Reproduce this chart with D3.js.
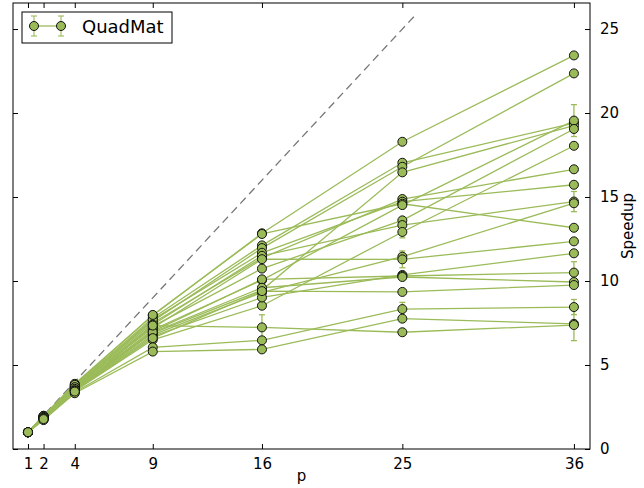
<!DOCTYPE html>
<html>
<head>
<meta charset="utf-8">
<script src="https://cdn.jsdelivr.net/npm/d3@7"></script>
<style>
body { margin:0; background:#fff; }
text { font-family: "DejaVu Sans", sans-serif; fill:#000; }
</style>
</head>
<body>
<div id="chart"></div>
<script>
var w=644, h=488

// processor counts on the x axis
var procs = [1, 2, 4, 9, 16, 25, 36];
var xTicks = [1, 2, 4, 9, 16, 25, 36];
var yTicks = [0, 5, 10, 15, 20, 25];
var seriesName = "QuadMat";

// one row per matrix: speedup at p = 1,2,4,9,16,25,36
var speedups = [
  [1, 1.98, 3.88, 7.95, 12.84, 18.29, 23.43],
  [1, 1.95, 3.80, 7.80, 12.12, 17.04, 19.40],
  [1, 1.93, 3.75, 7.60, 11.96, 16.80, 22.36],
  [1, 1.88, 3.60, 6.90, 9.46, 16.47, 19.25],
  [1, 1.90, 3.70, 7.50, 11.37, 14.88, 16.65],
  [1, 1.92, 3.72, 7.70, 11.68, 14.72, 15.73],
  [1, 1.97, 3.82, 7.98, 12.80, 14.60, 13.17],
  [1, 1.85, 3.55, 7.10, 10.05, 14.52, 19.55],
  [1, 1.87, 3.62, 7.30, 10.74, 13.61, 19.05],
  [1, 1.89, 3.65, 7.40, 11.50, 13.33, 14.73],
  [1, 1.80, 3.45, 6.50, 8.53, 12.92, 18.05],
  [1, 1.84, 3.52, 6.80, 9.32, 11.45, 14.63],
  [1, 1.91, 3.68, 7.20, 11.30, 11.29, 12.36],
  [1, 1.82, 3.48, 6.70, 9.02, 10.36, 11.65],
  [1, 1.86, 3.58, 7.00, 10.10, 10.30, 10.50],
  [1, 1.83, 3.50, 6.95, 9.60, 10.24, 9.94],
  [1, 1.81, 3.46, 6.60, 9.40, 9.35, 9.76],
  [1, 1.76, 3.38, 6.05, 6.47, 8.33, 8.45],
  [1, 1.72, 3.32, 5.80, 5.93, 7.76, 7.45],
  [1, 1.78, 3.42, 7.35, 7.24, 6.95, 7.38]
];

// standard deviation of each point (same layout as speedups)
var errBars = [
  [0, 0.02, 0.05, 0.10, 0.10, 0.10, 0.10],
  [0, 0.02, 0.05, 0.10, 0.10, 0.10, 0.15],
  [0, 0.02, 0.05, 0.10, 0.10, 0.10, 0.10],
  [0, 0.02, 0.05, 0.10, 0.10, 0.10, 0.10],
  [0, 0.02, 0.05, 0.10, 0.10, 0.10, 0.10],
  [0, 0.02, 0.05, 0.10, 0.10, 0.10, 0.10],
  [0, 0.02, 0.05, 0.10, 0.10, 0.10, 0.10],
  [0, 0.02, 0.05, 0.10, 0.10, 0.15, 0.95],
  [0, 0.02, 0.05, 0.10, 0.10, 0.10, 0.10],
  [0, 0.02, 0.05, 0.10, 0.10, 0.10, 0.60],
  [0, 0.02, 0.05, 0.10, 0.10, 0.35, 0.10],
  [0, 0.02, 0.05, 0.10, 0.10, 0.10, 0.10],
  [0, 0.02, 0.05, 0.10, 0.10, 0.50, 0.10],
  [0, 0.02, 0.05, 0.10, 0.10, 0.10, 0.10],
  [0, 0.02, 0.05, 0.10, 0.10, 0.10, 0.65],
  [0, 0.02, 0.05, 0.10, 0.10, 0.10, 0.10],
  [0, 0.02, 0.05, 0.10, 0.10, 0.10, 0.10],
  [0, 0.02, 0.05, 0.10, 0.10, 0.40, 0.45],
  [0, 0.02, 0.05, 0.10, 0.10, 0.10, 1.00],
  [0, 0.02, 0.05, 0.10, 0.75, 0.10, 0.10]
];

// ideal speedup line y = p
var idealLine = [1, 25.8];

var green = "#9bbb59";

var svg=d3.select("#chart")
.append("svg")
.attr("width",w)
.attr("height",h);

var plotL=13, plotR=590, plotT=3, plotB=449;

var x = d3.scaleLinear().domain([0.04, 37.03]).range([plotL, plotR]);
var y = d3.scaleLinear().domain([0, 26.55]).range([plotB, plotT]);

// frame box
svg.append("rect")
.attr("x", plotL)
.attr("y", plotT)
.attr("width", plotR-plotL)
.attr("height", plotB-plotT)
.attr("fill", "none")
.attr("stroke", "#000")
.attr("stroke-width", 1);

// bottom axis (ticks point inward)
var xAxis = svg.append("g")
.attr("transform", "translate(0," + plotB + ")")
.call(d3.axisBottom(x).tickValues(xTicks).tickSizeInner(-5).tickSizeOuter(0).tickPadding(9));
xAxis.select(".domain").remove();
xAxis.selectAll("text").style("font-size", "15px").style("font-family", "DejaVu Sans");

// top mirror ticks
var xTop = svg.append("g")
.attr("transform", "translate(0," + plotT + ")")
.call(d3.axisTop(x).tickValues(xTicks).tickSizeInner(-5).tickSizeOuter(0).tickFormat(""));
xTop.select(".domain").remove();

// right axis with labels
var yAxis = svg.append("g")
.attr("transform", "translate(" + plotR + ",0)")
.call(d3.axisRight(y).tickValues(yTicks).tickSizeInner(-5).tickSizeOuter(0).tickPadding(10));
yAxis.select(".domain").remove();
yAxis.selectAll("text").style("font-size", "15px").style("font-family", "DejaVu Sans");

// left mirror ticks
var yLeft = svg.append("g")
.attr("transform", "translate(" + plotL + ",0)")
.call(d3.axisLeft(y).tickValues(yTicks).tickSizeInner(-5).tickSizeOuter(0).tickFormat(""));
yLeft.select(".domain").remove();

svg.selectAll(".tick line").attr("stroke", "#000");

// axis labels
svg.append("text")
.attr("x", (plotL+plotR)/2)
.attr("y", 481)
.attr("text-anchor", "middle")
.style("font-size", "15px")
.text("p");

svg.append("text")
.attr("transform", "translate(633," + (plotT+plotB)/2 + ") rotate(-90)")
.attr("text-anchor", "middle")
.style("font-size", "15px")
.text("Speedup");

// ideal line
svg.append("line")
.attr("x1", x(idealLine[0]))
.attr("y1", y(idealLine[0]))
.attr("x2", x(idealLine[1]))
.attr("y2", y(idealLine[1]))
.attr("stroke", "#777")
.attr("stroke-width", 1.3)
.attr("stroke-dasharray", "8,5");

var line = d3.line()
.x(function(d, i) { return x(procs[i]); })
.y(function(d) { return y(d); });

var plot = svg.append("g");

// lines
plot.selectAll(".series")
.data(speedups)
.enter()
.append("path")
.attr("d", line)
.attr("fill", "none")
.attr("stroke", green)
.attr("stroke-width", 1.3);

// error bars
var points = [];
speedups.forEach(function(s, si) {
  s.forEach(function(v, i) {
    points.push({p: procs[i], v: v, e: errBars[si][i]});
  });
});

var eb = plot.selectAll(".err")
.data(points.filter(function(d) { return d.e > 0; }))
.enter()
.append("g")
.attr("stroke", green)
.attr("stroke-width", 1.3);

eb.append("line")
.attr("x1", function(d) { return x(d.p); })
.attr("x2", function(d) { return x(d.p); })
.attr("y1", function(d) { return y(d.v - d.e); })
.attr("y2", function(d) { return y(d.v + d.e); });
eb.append("line")
.attr("x1", function(d) { return x(d.p) - 3; })
.attr("x2", function(d) { return x(d.p) + 3; })
.attr("y1", function(d) { return y(d.v - d.e); })
.attr("y2", function(d) { return y(d.v - d.e); });
eb.append("line")
.attr("x1", function(d) { return x(d.p) - 3; })
.attr("x2", function(d) { return x(d.p) + 3; })
.attr("y1", function(d) { return y(d.v + d.e); })
.attr("y2", function(d) { return y(d.v + d.e); });

// markers
plot.selectAll(".pt")
.data(points)
.enter()
.append("circle")
.attr("cx", function(d) { return x(d.p); })
.attr("cy", function(d) { return y(d.v); })
.attr("r", 4.5)
.attr("fill", green)
.attr("stroke", "#111")
.attr("stroke-width", 1);

// legend
var legend = svg.append("g");
legend.append("rect")
.attr("x", 22)
.attr("y", 12)
.attr("width", 150)
.attr("height", 31)
.attr("fill", "#fff")
.attr("stroke", "#000")
.attr("stroke-width", 1);
legend.append("line")
.attr("x1", 34).attr("x2", 61).attr("y1", 26).attr("y2", 26)
.attr("stroke", green).attr("stroke-width", 1.3);
[34, 61].forEach(function(cx) {
  legend.append("line").attr("x1", cx).attr("x2", cx).attr("y1", 16).attr("y2", 36)
  .attr("stroke", green).attr("stroke-width", 1.1);
  legend.append("line").attr("x1", cx-3).attr("x2", cx+3).attr("y1", 16).attr("y2", 16)
  .attr("stroke", green).attr("stroke-width", 1.1);
  legend.append("line").attr("x1", cx-3).attr("x2", cx+3).attr("y1", 36).attr("y2", 36)
  .attr("stroke", green).attr("stroke-width", 1.1);
  legend.append("circle").attr("cx", cx).attr("cy", 26).attr("r", 4.5)
  .attr("fill", green).attr("stroke", "#111").attr("stroke-width", 1);
});
legend.append("text")
.attr("x", 82)
.attr("y", 33)
.style("font-size", "18px")
.text(seriesName);
</script>
</body>
</html>
